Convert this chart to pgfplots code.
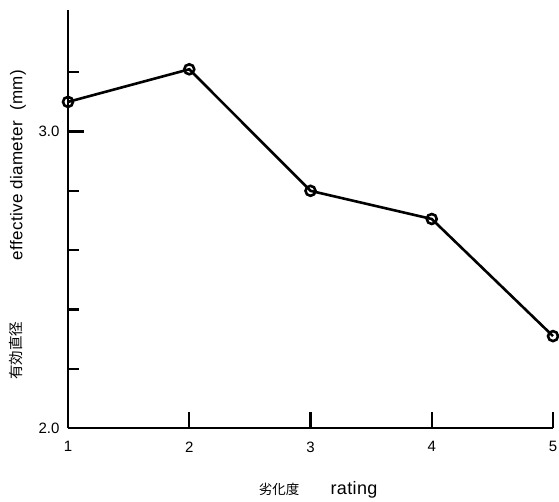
\documentclass[border=0pt]{standalone}
\usepackage{pgfplots}
\pgfplotsset{compat=1.18}
\usepackage{fontspec}
\setmainfont{Liberation Sans}
\newfontfamily\cjk{Noto Sans CJK JP}
\newfontfamily\lsp{Liberation Sans}[LetterSpace=2]
\begin{document}
\begin{tikzpicture}
\begin{axis}[
  name=ax,
  scale only axis,
  width=485pt, height=418pt,
  xmin=1, xmax=5, ymin=2.0, ymax=3.41,
  axis x line=bottom, axis y line=left,
  axis line style={line width=2.6pt, -},
  xtick={1,2,3,4,5},
  ytick={2.0,3.0},
  yticklabels={2.0,3.0},
  minor ytick={2.2,2.4,2.6,2.8,3.2},
  tick align=inside,
  major tick length=16pt,
  minor tick length=11pt,
  every tick/.style={line width=2.4pt, black},
  /pgf/number format/assume math mode=true,
  ticklabel style={font=\fontsize{15}{18}\selectfont},
  x tick label style={yshift=-10pt},
  y tick label style={xshift=-5pt},
  clip=false,
]
\addplot[black, line width=2.6pt, mark=o, mark size=5pt, mark options={line width=2.6pt, fill=white}]
coordinates {(1,3.10) (2,3.21) (3,2.80) (4,2.705) (5,2.31)};
\end{axis}
\node[rotate=90, font=\lsp\fontsize{17}{20}\selectfont] at ([xshift=-50pt, yshift=263pt]ax.south west) {effective diameter\ \ (mm)};
\node[rotate=90, font=\cjk\fontsize{14.5}{17}\selectfont] at ([xshift=-52pt, yshift=77pt]ax.south west) {有効直径};
\node[anchor=base, font=\cjk\fontsize{13.5}{16}\selectfont] at ([xshift=211pt, yshift=-67pt]ax.south west) {劣化度};
\node[anchor=base, font=\lsp\fontsize{18}{21}\selectfont] at ([xshift=286pt, yshift=-67pt]ax.south west) {rating};
\pgfresetboundingbox
\path[use as bounding box] ([xshift=-68pt, yshift=-74pt]ax.south west) rectangle ++(559pt,502pt);
\end{tikzpicture}
\end{document}
